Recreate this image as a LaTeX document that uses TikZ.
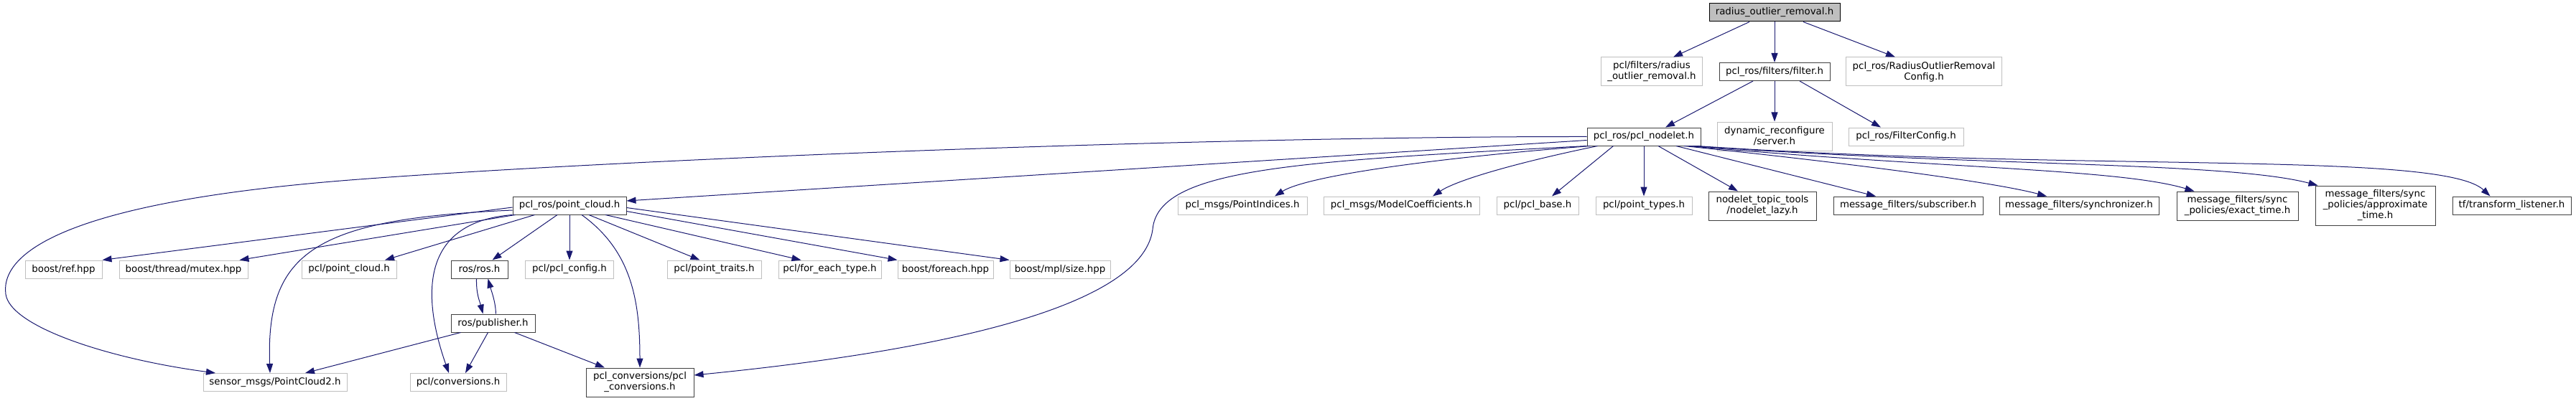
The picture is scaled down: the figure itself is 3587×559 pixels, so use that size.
\documentclass[tikz,border=0pt]{standalone}
\usepackage{fontspec}
\setmainfont{DejaVu Sans}
\usetikzlibrary{arrows.meta}
\definecolor{edgeblue}{HTML}{191970}
\definecolor{lgray}{HTML}{BFBFBF}
\definecolor{dgray}{HTML}{404040}
\begin{document}
\begin{tikzpicture}[x=1pt,y=-1pt,
  font=\fontsize{13.33}{15}\selectfont,
  box/.style={rectangle, inner sep=0pt, align=center, line width=1pt, minimum height=25pt, text=black},
  ext/.style={box, draw=lgray},
  doc/.style={box, draw=dgray},
  root/.style={box, draw=black, fill=lgray},
  dep/.style={draw=edgeblue, line width=1pt, -{Triangle[length=13pt,width=9pt]}}]
\useasboundingbox (0,0) rectangle (3587,559);

% row 0
\node[root, minimum width=182pt] (top) at (2471,17.5) {radius\_outlier\_removal.h};
% row 1
\node[ext, minimum width=141pt, minimum height=40pt] (pflt) at (2300,100) {pcl/filters/radius\\\_outlier\_removal.h};
\node[doc, minimum width=154pt] (filt) at (2471,100) {pcl\_ros/filters/filter.h};
\node[ext, minimum width=217pt, minimum height=40pt] (rcfg) at (2679,100) {pcl\_ros/RadiusOutlierRemoval\\Config.h};
% row 2
\node[doc, minimum width=158pt] (nl) at (2289,190.5) {pcl\_ros/pcl\_nodelet.h};
\node[ext, minimum width=160pt, minimum height=40pt] (dyn) at (2471,190) {dynamic\_reconfigure\\/server.h};
\node[ext, minimum width=160pt] (fcfg) at (2654,190.5) {pcl\_ros/FilterConfig.h};
% row 3
\node[doc, minimum width=158pt] (pc) at (793,286.5) {pcl\_ros/point\_cloud.h};
\node[ext, minimum width=180pt] (pidx) at (1730,286.5) {pcl\_msgs/PointIndices.h};
\node[ext, minimum width=217pt] (mcoef) at (1951.5,286.5) {pcl\_msgs/ModelCoefficients.h};
\node[ext, minimum width=114pt] (pbase) at (2141,286.5) {pcl/pcl\_base.h};
\node[ext, minimum width=134pt] (ptyp) at (2289,286.5) {pcl/point\_types.h};
\node[doc, minimum width=150pt, minimum height=40pt] (lazy) at (2454,287) {nodelet\_topic\_tools\\/nodelet\_lazy.h};
\node[doc, minimum width=208pt] (sub) at (2657,286.5) {message\_filters/subscriber.h};
\node[doc, minimum width=222pt] (sync) at (2895,286.5) {message\_filters/synchronizer.h};
\node[doc, minimum width=169pt, minimum height=40pt] (exact) at (3115.5,287) {message\_filters/sync\\\_policies/exact\_time.h};
\node[doc, minimum width=167pt, minimum height=55pt] (approx) at (3307.5,286.5) {message\_filters/sync\\\_policies/approximate\\\_time.h};
\node[doc, minimum width=165pt] (tfl) at (3497.5,286.5) {tf/transform\_listener.h};
% row 4
\node[ext, minimum width=107pt] (bref) at (88.5,375.5) {boost/ref.hpp};
\node[ext, minimum width=179pt] (bmut) at (255.5,375.5) {boost/thread/mutex.hpp};
\node[ext, minimum width=132pt] (ppc) at (486,375.5) {pcl/point\_cloud.h};
\node[doc, minimum width=79pt] (ros) at (667.5,375.5) {ros/ros.h};
\node[ext, minimum width=123pt] (pcfg) at (793,375.5) {pcl/pcl\_config.h};
\node[ext, minimum width=131pt] (ptr) at (994.5,375.5) {pcl/point\_traits.h};
\node[ext, minimum width=143pt] (fet) at (1155.5,375.5) {pcl/for\_each\_type.h};
\node[ext, minimum width=133pt] (bfe) at (1316.5,375.5) {boost/foreach.hpp};
\node[ext, minimum width=140pt] (bmpl) at (1476,375.5) {boost/mpl/size.hpp};
% row 5
\node[doc, minimum width=117pt] (pub) at (686.5,450.5) {ros/publisher.h};
% row 6
\node[ext, minimum width=200pt] (pc2) at (383,533) {sensor\_msgs/PointCloud2.h};
\node[ext, minimum width=134pt] (conv) at (638,533) {pcl/conversions.h};
\node[doc, minimum width=150pt, minimum height=40pt] (pclc) at (891,533) {pcl\_conversions/pcl\\\_conversions.h};

% edges from root
\draw[dep] ([xshift=-35pt]top.south) -- ([xshift=30pt]pflt.north);
\draw[dep] (top.south) -- (filt.north);
\draw[dep] ([xshift=40pt]top.south) -- ([xshift=-40pt]rcfg.north);
% edges from filter.h
\draw[dep] ([xshift=-30pt]filt.south) -- ([xshift=30pt]nl.north);
\draw[dep] (filt.south) -- (dyn.north);
\draw[dep] ([xshift=35pt]filt.south) -- ([xshift=-35pt]fcfg.north);
% edges from pcl_nodelet.h
\draw[dep] ([yshift=-5pt]nl.west) -- ([yshift=6.5pt]pc.east);
\draw[dep] (nl.west) .. controls (1700,190) and (900,220) .. (500,250)
  .. controls (100,280) and (0,350) .. (8,410)
  .. controls (14,455) and (150,500) .. ([xshift=-83pt]pc2.north);
\draw[dep] (nl.south west) .. controls (1800,225) and (1612,235) .. (1605,320)
  .. controls (1590,430) and (1300,490) .. ([yshift=10pt]pclc.east);
\draw[dep] ([xshift=5pt]nl.south west) .. controls (2000,220) and (1820,245) .. ([xshift=45pt]pidx.north);
\draw[dep] ([xshift=15pt]nl.south west) .. controls (2120,225) and (2030,250) .. ([xshift=43.5pt]mcoef.north);
\draw[dep] ([xshift=37pt]nl.south west) -- ([xshift=20pt]pbase.north);
\draw[dep] (nl.south) -- (ptyp.north);
\draw[dep] ([xshift=20pt]nl.south) -- ([xshift=-34pt]lazy.north);
\draw[dep] ([xshift=45pt]nl.south) -- ([xshift=-45pt]sub.north);
\draw[dep] ([xshift=56pt]nl.south) .. controls (2600,230) and (2780,255) .. ([xshift=-45pt]sync.north);
\draw[dep] ([xshift=62pt]nl.south) .. controls (2700,235) and (2950,235) .. ([xshift=-60pt]exact.north);
\draw[dep] ([xshift=68pt]nl.south) .. controls (2750,232) and (3100,225) .. ([xshift=-80pt]approx.north);
\draw[dep] ([xshift=74pt]nl.south) .. controls (2900,240) and (3400,210) .. ([xshift=-30pt]tfl.north);
% edges from point_cloud.h
\draw[dep] ([yshift=-2.5pt]pc.west) -- (bref.north east);
\draw[dep] ([xshift=4pt]pc.south west) -- ([xshift=78pt]bmut.north);
\draw[dep] ([xshift=31pt]pc.south west) -- ([xshift=50pt]ppc.north);
\draw[dep] ([yshift=-6.5pt]pc.west) .. controls (440,305) and (370,350) .. ([xshift=-7pt]pc2.north);
\draw[dep] (pc.south west) .. controls (580,310) and (590,420) .. ([xshift=-13pt]conv.north);
\draw[dep] ([xshift=-17pt]pc.south) -- ([xshift=18pt]ros.north);
\draw[dep] (pc.south) -- (pcfg.north);
\draw[dep] ([xshift=17pt]pc.south) .. controls (880,350) and (891,420) .. (pclc.north);
\draw[dep] ([xshift=27pt]pc.south) -- ([xshift=-20pt]ptr.north);
\draw[dep] ([xshift=50pt]pc.south) -- ([xshift=-40pt]fet.north);
\draw[dep] ([yshift=-8pt]pc.east) -- (bfe.north west);
\draw[dep] ([yshift=-3pt]pc.east) -- (bmpl.north west);
% ros.h / publisher.h
\draw[dep] ([xshift=-4pt]ros.south) .. controls (663,410) and (668,420) .. ([xshift=-14pt]pub.north);
\draw[dep] ([xshift=4pt]pub.north) .. controls (690,420) and (684,405) .. ([xshift=12pt]ros.south);
\draw[dep] ([xshift=-45pt]pub.south) -- ([xshift=42pt]pc2.north);
\draw[dep] ([xshift=-7pt]pub.south) -- ([xshift=10pt]conv.north);
\draw[dep] ([xshift=30pt]pub.south) -- ([xshift=-49pt]pclc.north);
\end{tikzpicture}
\end{document}
